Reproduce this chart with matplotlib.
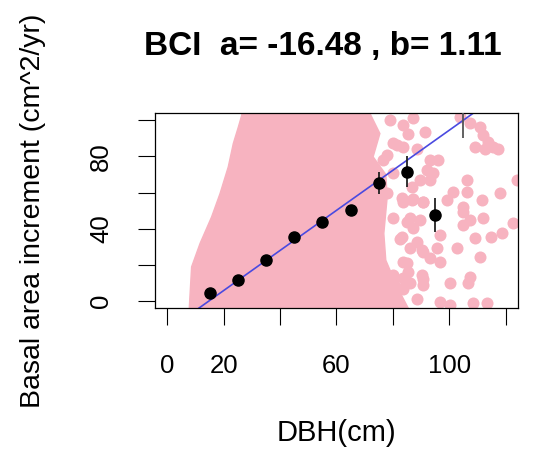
import numpy as np
import matplotlib.pyplot as plt
from matplotlib.patches import Polygon

plt.rcParams['font.family'] = ['Liberation Sans', 'DejaVu Sans']

# binned means (DBH class midpoints) with error bars
bin_dbh = [15, 25, 35, 45, 55, 65, 75, 85, 95, 105]
bin_bai = [4.1, 11.5, 22.4, 35.5, 43.6, 50.2, 65.4, 71.5, 47.5, 112.0]
bin_err = [1.0, 1.0, 1.2, 1.5, 2.0, 2.5, 6.0, 8.7, 9.3, 22.0]

# fitted line
a_coef = -16.48
b_coef = 1.11

# outline of the dense cloud of individual trees (DBH, BAI)
cloud_dbh = [7.8, 7.8, 8.6, 11.6, 15.7, 18.7, 21.6, 23.4, 25.2, 26.4, 26.8,
             72.0, 71.9, 75.4, 73.0, 77.5, 78.0, 76.8, 77.5, 81.5, 85.5, 86.0]
cloud_bai = [-10, -3.3, 18.8, 31.8, 46.5, 59.5, 74.2, 87.2, 96.4, 102.9, 110,
             110, 103.8, 92.7, 79.8, 70.0, 57.6, 37.3, 22.5, 7.8, -4.2, -10]

# scattered large trees outside the dense cloud
tree_dbh = [79.0, 83.7, 87.2, 85.5, 91.4, 80.1, 83.7, 76.6, 80.1, 93.2, 96.1,
            92.0, 94.3, 89.6, 93.2, 86.7, 103.8, 107.4, 110.9, 112.1, 113.8,
            109.1, 112.7, 117.4, 106.2, 123.9, 101.4, 106.2, 118.0, 83.1, 86.7,
            90.8, 99.1, 111.5, 77.8, 105.0, 115.6,
            80.1, 86.1, 89.6, 87.2, 83.1, 96.7, 105.0, 107.4, 105.0, 109.1,
            112.1, 115.0, 118.6, 122.7, 86.1, 90.2, 95.5, 93.2, 96.7, 102.6,
            110.9, 84.9, 80.1, 83.7, 86.1, 90.2, 90.8, 81.3, 100.2, 107.4,
            106.7, 96.7, 100.2, 113.3, 108.5,
            85.0, 82.5, 88.5, 90.7, 83.6, 85.4, 80.0, 83.6, 88.5, 90.7,
            77.8, 81.3, 88.4, 87.1, 90.7, 83.7]
tree_bai = [100.1, 97.3, 101.1, 92.7, 93.6, 87.2, 85.3, 77.9, 70.6, 77.9, 77.9,
            72.4, 70.6, 66.9, 66.9, 63.2, 101.9, 98.3, 96.4, 91.8, 88.1,
            85.3, 84.4, 84.4, 66.9, 66.9, 60.4, 60.4, 59.5, 56.7, 55.8,
            54.8, 55.8, 55.8, 59.5, 52.1, 85.3,
            45.7, 45.7, 44.7, 40.1, 35.5, 36.4, 49.3, 44.7, 41.9, 34.6,
            45.7, 35.5, 37.3, 42.9, 29.0, 28.1, 29.0, 23.5, 21.6, 29.0,
            24.4, 20.7, 14.2, 12.4, 9.6, 14.2, 8.7, 6.9, 9.6, 13.3,
            9.6, -0.6, -2.4, -1.4, -1.4,
            43.6, 34.2, 32.5, 27.0, 21.4, 15.9, 10.4, 6.5, 0.9, 12.0,
            80.6, 86.1, 84.2, 56.5, 54.7, 54.7]

pink = '#f7b3c0'

fig = plt.figure(figsize=(5.39, 4.49), dpi=100)
ax = fig.add_axes([0.287, 0.314, 0.674, 0.434])

ax.add_patch(Polygon(np.column_stack([cloud_dbh, cloud_bai]), closed=True,
                     facecolor=pink, edgecolor=pink, linewidth=1, zorder=1))
ax.scatter(tree_dbh, tree_bai, s=75, color=pink, linewidths=0, zorder=1)

xx = np.array([-10, 130])
ax.plot(xx, a_coef + b_coef * xx, color='#4a4ae0', lw=1.2, zorder=2)

# last bin sits above the plot, its bar looks grey in the original
ax.errorbar(bin_dbh[:-1], bin_bai[:-1], yerr=bin_err[:-1], fmt='o',
            color='black', ms=8, elinewidth=1.3, capsize=0, zorder=3,
            ecolor='#222222')
ax.errorbar(bin_dbh[-1:], bin_bai[-1:], yerr=bin_err[-1:], fmt='o',
            color='black', ms=8, elinewidth=1.3, capsize=0, zorder=3,
            ecolor='#555555')

ax.set_xlim(-4.5, 124.4)
ax.set_ylim(-4, 104)

ax.set_xticks([0, 20, 40, 60, 80, 100, 120])
ax.set_xticklabels(['0', '20', '', '60', '', '100', ''])
ax.set_yticks([0, 20, 40, 60, 80, 100])
ax.set_yticklabels(['0', '', '40', '', '80', ''], rotation=90, va='center')

ax.tick_params(axis='both', direction='out', length=12, width=0.8,
               labelsize=18.5, pad=18, colors='black')
ax.tick_params(axis='x', pad=21)
for s in ax.spines.values():
    s.set_linewidth(0.9)

fig.text(0.6247, 0.0356, 'DBH(cm)', ha='center', va='center', fontsize=21)
fig.text(0.0612, 0.531, 'Basal area increment (cm^2/yr)', ha='center',
         va='center', rotation=90, fontsize=20.5)
fig.text(0.5998, 0.8775, 'BCI  a= -16.48 , b= 1.11', ha='center',
         va='baseline', fontsize=24, fontweight='bold')

fig.savefig('out.png', dpi=100)
